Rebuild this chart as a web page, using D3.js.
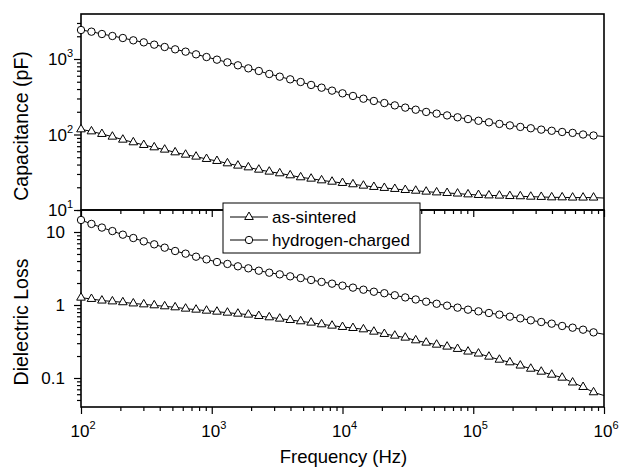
<!DOCTYPE html>
<html>
<head>
<meta charset="utf-8">
<script src="https://cdn.jsdelivr.net/npm/d3@7"></script>
<style>
  body { margin: 0; background: #fff; }
  svg { font-family: "Liberation Sans", Arial, sans-serif; }
</style>
</head>
<body>
<svg id="chart" width="619" height="470"></svg>
<script>
let width = 619, height = 470;

// frequency points (Hz)
let freq = [100, 120.2, 144.5, 173.8, 208.9, 251.2, 302, 363.1, 436.5, 524.8, 631, 758.6, 912,
    1096, 1318, 1585, 1905, 2291, 2754, 3311, 3981, 4786, 5754, 6918, 8318, 10000,
    12023, 14454, 17378, 20893, 25119, 30200, 36308, 43652, 52481, 63096, 75858, 91201,
    109648, 131826, 158489, 190546, 229087, 275423, 331131, 398107, 478630, 575440,
    691831, 831764, 1000000];

// capacitance (pF)
let capSintered = [117, 110, 101.6, 93.6, 85.4, 78.8, 72.6, 67.6, 63.0, 58.0, 54.0, 50.9, 47.4,
    44.6, 41.5, 38.7, 36.7, 34.2, 32.2, 30.6, 28.8, 27.1, 26.0, 24.7, 23.7, 22.8,
    21.9, 21.0, 20.2, 19.6, 19.0, 18.4, 18.0, 17.5, 17.1, 16.8, 16.5, 16.1, 15.8,
    15.6, 15.5, 15.3, 15.2, 15.0, 14.9, 14.7, 14.7, 14.6, 14.6, 14.6, 14.4];
let capHydrogen = [2421, 2301, 2143, 2017, 1897, 1767, 1662, 1549, 1442, 1343, 1251, 1153, 1062,
    980, 903, 825, 752, 694, 633, 583, 538, 496, 453, 417, 381, 351,
    324, 298, 278, 261, 243, 227, 213, 199, 189, 179, 169, 160, 152,
    145, 138, 132, 126, 121, 116, 112, 108, 105, 100, 97, 94];

// dielectric loss
let lossSintered = [1.26, 1.21, 1.15, 1.12, 1.09, 1.05, 1.02, 0.990, 0.959, 0.929, 0.891, 0.863, 0.836,
    0.810, 0.785, 0.761, 0.738, 0.707, 0.678, 0.650, 0.623, 0.598, 0.573, 0.544, 0.521, 0.500,
    0.484, 0.464, 0.431, 0.401, 0.380, 0.357, 0.328, 0.305, 0.286, 0.269, 0.250, 0.230, 0.216,
    0.196, 0.178, 0.164, 0.148, 0.134, 0.122, 0.111, 0.101, 0.0867, 0.0753, 0.0637, 0.0575];
let lossHydrogen = [14.6, 12.9, 11.5, 10.3, 9.19, 8.27, 7.45, 6.78, 6.10, 5.49, 5.05, 4.59, 4.22,
    3.88, 3.65, 3.39, 3.18, 2.95, 2.77, 2.63, 2.47, 2.34, 2.20, 2.07, 1.96, 1.84,
    1.73, 1.62, 1.52, 1.45, 1.36, 1.27, 1.19, 1.11, 1.04, 0.98, 0.92, 0.863, 0.819,
    0.777, 0.738, 0.692, 0.657, 0.617, 0.585, 0.555, 0.516, 0.489, 0.459, 0.422, 0.397];

let seriesNames = ["as-sintered", "hydrogen-charged"];
let seriesSymbols = ["triangle", "circle"];

let xMajor = [1e2, 1e3, 1e4, 1e5, 1e6];
let capMajor = [10, 100, 1000];
let lossMajor = [0.1, 1, 10];
let lossLabels = ["0.1", "1", "10"];

// layout
let plotLeft = 81, plotRight = 604, plotTop = 14, plotMid = 210, plotBottom = 407;
let capDecade = 75.5, lossDecade = 73;

let svg = d3.select('#chart');

let x = d3.scaleLog()
    .domain([1e2, 1e6])
    .range([plotLeft, plotRight]);

let yCap = d3.scaleLog()
    .domain([10, Math.pow(10, 1 + (plotMid - plotTop) / capDecade)])
    .range([plotMid, plotTop]);

let yLoss = d3.scaleLog()
    .domain([Math.pow(10, -1 - (plotBottom - 378) / lossDecade), Math.pow(10, 1 + (232 - plotMid) / lossDecade)])
    .range([plotBottom, plotMid]);

function minorTicks(scale) {
    let d = scale.domain();
    let lo = Math.floor(Math.log10(d[0])), hi = Math.ceil(Math.log10(d[1]));
    let out = [];
    for (let e = lo; e <= hi; e++) {
        for (let m = 2; m <= 9; m++) {
            let v = m * Math.pow(10, e);
            if (v >= d[0] * 0.999 && v <= d[1] * 1.001) out.push(v);
        }
    }
    return out;
}

function drawAxis(g, axisFn, scale, major, size) {
    g.append('g').call(axisFn(scale).tickValues(minorTicks(scale)).tickSize(4).tickFormat(''));
    g.append('g').call(axisFn(scale).tickValues(major).tickSize(size).tickFormat(''));
    g.selectAll('.domain').remove();
    g.selectAll('line').attr('stroke', '#000').attr('stroke-width', 1.2);
}

// x axes: bottom of lower panel (with labels) and bottom of upper panel (ticks only)
let xAxisBottom = svg.append('g').attr('transform', 'translate(0,' + plotBottom + ')');
drawAxis(xAxisBottom, d3.axisBottom, x, xMajor, 7);
let xAxisMid = svg.append('g').attr('transform', 'translate(0,' + plotMid + ')');
drawAxis(xAxisMid, d3.axisBottom, x, xMajor, 7);

let yAxisCap = svg.append('g').attr('transform', 'translate(' + plotLeft + ',0)');
drawAxis(yAxisCap, d3.axisLeft, yCap, capMajor, 7);
let yAxisLoss = svg.append('g').attr('transform', 'translate(' + plotLeft + ',0)');
drawAxis(yAxisLoss, d3.axisLeft, yLoss, lossMajor, 7);

// tick labels
function powerLabel(t, v) {
    let e = Math.round(Math.log10(v));
    t.append('tspan').text('10');
    t.append('tspan').attr('dy', -8).attr('font-size', 11).text(e);
}

svg.append('g').selectAll('text')
    .data(xMajor)
    .enter().append('text')
    .attr('x', (d) => x(d) + 2)
    .attr('y', 437)
    .attr('text-anchor', 'middle')
    .attr('font-size', 17)
    .each(function (d) { powerLabel(d3.select(this), d); });

svg.append('g').selectAll('text')
    .data(capMajor)
    .enter().append('text')
    .attr('x', 73)
    .attr('y', (d) => yCap(d) + 6)
    .attr('text-anchor', 'end')
    .attr('font-size', 17)
    .each(function (d) { powerLabel(d3.select(this), d); });

svg.append('g').selectAll('text')
    .data(lossMajor)
    .enter().append('text')
    .attr('x', 65)
    .attr('y', (d) => yLoss(d) + 6)
    .attr('text-anchor', 'end')
    .attr('font-size', 17)
    .text((d, i) => lossLabels[i]);

// frames
svg.append('rect').attr('x', plotLeft).attr('y', plotTop)
    .attr('width', plotRight - plotLeft).attr('height', plotMid - plotTop)
    .attr('fill', 'none').attr('stroke', '#000').attr('stroke-width', 1.6);
svg.append('rect').attr('x', plotLeft).attr('y', plotMid)
    .attr('width', plotRight - plotLeft).attr('height', plotBottom - plotMid)
    .attr('fill', 'none').attr('stroke', '#000').attr('stroke-width', 1.6);

// axis titles
svg.append('text')
    .attr('x', (plotLeft + plotRight) / 2 + 1)
    .attr('y', 463)
    .attr('text-anchor', 'middle')
    .attr('font-size', 18.5)
    .text('Frequency (Hz)');

svg.append('text')
    .attr('transform', 'translate(28,126) rotate(-90)')
    .attr('text-anchor', 'middle')
    .attr('font-size', 19.5)
    .text('Capacitance (pF)');

svg.append('text')
    .attr('transform', 'translate(28,322) rotate(-90)')
    .attr('text-anchor', 'middle')
    .attr('font-size', 19.5)
    .text('Dielectric Loss');

// series
let triangle = d3.symbol().type(d3.symbolTriangle).size(32);
let circleR = 3.7;

function drawSeries(values, yScale, symbol) {
    let pts = freq.map((f, i) => ({ f: f, v: values[i] }));
    svg.append('path')
        .datum(pts)
        .attr('fill', 'none')
        .attr('stroke', '#000')
        .attr('stroke-width', 1)
        .attr('d', d3.line().x((d) => x(d.f)).y((d) => yScale(d.v)));

    // markers on every point but the line end at the right border
    let marks = pts.filter((d) => d.f < 1e6);
    if (symbol === 'circle') {
        svg.append('g').selectAll('circle')
            .data(marks)
            .enter().append('circle')
            .attr('cx', (d) => x(d.f))
            .attr('cy', (d) => yScale(d.v))
            .attr('r', circleR)
            .attr('fill', '#fff')
            .attr('stroke', '#000')
            .attr('stroke-width', 1);
    } else {
        svg.append('g').selectAll('path')
            .data(marks)
            .enter().append('path')
            .attr('d', triangle)
            .attr('transform', (d) => 'translate(' + x(d.f) + ',' + yScale(d.v) + ')')
            .attr('fill', '#fff')
            .attr('stroke', '#000')
            .attr('stroke-width', 1);
    }
}

drawSeries(capSintered, yCap, 'triangle');
drawSeries(capHydrogen, yCap, 'circle');
drawSeries(lossSintered, yLoss, 'triangle');
drawSeries(lossHydrogen, yLoss, 'circle');

// legend
let legend = svg.append('g');
legend.append('rect')
    .attr('x', 223).attr('y', 203).attr('width', 197).attr('height', 50)
    .attr('fill', '#fff').attr('stroke', '#000').attr('stroke-width', 1);

let rows = legend.selectAll('g.row')
    .data(seriesNames)
    .enter().append('g')
    .attr('class', 'row')
    .attr('transform', (d, i) => 'translate(0,' + (217 + i * 23) + ')');

rows.append('line')
    .attr('x1', 230).attr('x2', 268).attr('y1', 0).attr('y2', 0)
    .attr('stroke', '#000').attr('stroke-width', 1);

rows.each(function (d, i) {
    let r = d3.select(this);
    if (seriesSymbols[i] === 'circle') {
        r.append('circle').attr('cx', 249).attr('cy', 0).attr('r', circleR)
            .attr('fill', '#fff').attr('stroke', '#000');
    } else {
        r.append('path').attr('d', triangle).attr('transform', 'translate(249,0)')
            .attr('fill', '#fff').attr('stroke', '#000');
    }
});

rows.append('text')
    .attr('x', 272)
    .attr('y', 6)
    .attr('font-size', 17)
    .text((d) => d);
</script>
</body>
</html>
